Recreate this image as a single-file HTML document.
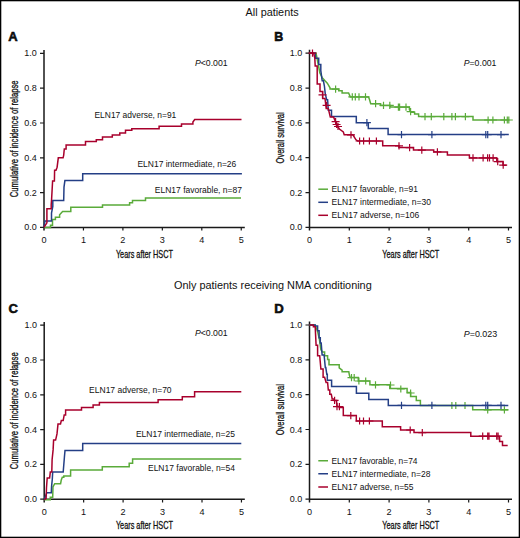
<!DOCTYPE html><html><head><meta charset="utf-8"><style>html,body{margin:0;padding:0;background:#fff}svg{display:block;font-family:"Liberation Sans",sans-serif}</style></head><body>
<svg width="520" height="538" viewBox="0 0 520 538" fill="#111">
<rect x="0.65" y="0.65" width="518.7" height="536.7" fill="#fff" stroke="#000" stroke-width="1.3"/>
<path d="M44.0 50.0 V230.6 M44.0 227.4 H244.8" stroke="#1a1a1a" stroke-width="1.5" fill="none"/>
<path d="M40.0 227.40H44.0M40.0 192.60H44.0M40.0 157.80H44.0M40.0 123.00H44.0M40.0 88.20H44.0M40.0 53.40H44.0M83.45 227.4V230.6M122.90 227.4V230.6M162.35 227.4V230.6M201.80 227.4V230.6M241.25 227.4V230.6" stroke="#1a1a1a" stroke-width="1.2" fill="none"/>
<text x="36.7" y="230.4" font-size="9.0" text-anchor="end">0.0</text>
<text x="36.7" y="195.6" font-size="9.0" text-anchor="end">0.2</text>
<text x="36.7" y="160.8" font-size="9.0" text-anchor="end">0.4</text>
<text x="36.7" y="126.0" font-size="9.0" text-anchor="end">0.6</text>
<text x="36.7" y="91.2" font-size="9.0" text-anchor="end">0.8</text>
<text x="36.7" y="56.4" font-size="9.0" text-anchor="end">1.0</text>
<text x="44.0" y="243.0" font-size="9.1" text-anchor="middle">0</text>
<text x="83.45" y="243.0" font-size="9.1" text-anchor="middle">1</text>
<text x="122.9" y="243.0" font-size="9.1" text-anchor="middle">2</text>
<text x="162.35" y="243.0" font-size="9.1" text-anchor="middle">3</text>
<text x="201.8" y="243.0" font-size="9.1" text-anchor="middle">4</text>
<text x="241.25" y="243.0" font-size="9.1" text-anchor="middle">5</text>
<text x="115.9" y="258.1" font-size="10.2" text-anchor="start" textLength="57.0" lengthAdjust="spacingAndGlyphs" stroke="#111" stroke-width="0.3">Years after HSCT</text>
<text transform="translate(17.6 197.2) rotate(-90)" x="0" y="0" font-size="10.2" stroke="#111" stroke-width="0.3" textLength="116.8" lengthAdjust="spacingAndGlyphs">Cumulative of incidence of relapse</text>
<g transform="translate(0 0)">
<path d="M44,227.4 H50.5 V225.2 H52.5 V219.6 H55.4 V217.3 H59.6 V214.7 L62.6,211.4 H70.8 V207.3 H102.5 V205.1 H129.6 V202.8 H132.5 V200.5 H145.5 V198.1 H241" stroke="#5aab3a" stroke-width="1.5" fill="none" stroke-linejoin="miter"/>
<path d="M44,227.4 L44.9,220.9 H51.5 V213.1 L52.8,206.5 V200.4 H63.7 L64,187.1 L64.9,180.6 H82.7 V173.7 H241.9" stroke="#243f86" stroke-width="1.5" fill="none" stroke-linejoin="miter"/>
<path d="M44,227.4 L46.9,222.9 V208.8 H51.2 V204.6 L51.6,199.2 L52.6,181 H54.4 L54.6,170.2 H56 L57.1,167.2 L58.3,157.8 H63.1 L63.7,155.1 L64.3,149 H66.1 V144.9 H85.5 V141.4 H96.3 V139.7 H102.5 V137 H112.3 V135 H119.8 V133 H125.5 V130.3 H131.8 V128.7 H159.1 V126.3 H181.5 V124.1 H192.9 V122 L194.7,119.6 H241.5" stroke="#a8002c" stroke-width="1.5" fill="none" stroke-linejoin="miter"/>
</g>
<path d="M309.5 49.7 V230.6 M309.5 227.4 H512.0" stroke="#1a1a1a" stroke-width="1.5" fill="none"/>
<path d="M305.5 227.40H309.5M305.5 192.56H309.5M305.5 157.72H309.5M305.5 122.88H309.5M305.5 88.04H309.5M305.5 53.20H309.5M349.30 227.4V230.6M389.10 227.4V230.6M428.90 227.4V230.6M468.70 227.4V230.6M508.50 227.4V230.6" stroke="#1a1a1a" stroke-width="1.2" fill="none"/>
<text x="302.2" y="230.4" font-size="9.0" text-anchor="end">0.0</text>
<text x="302.2" y="195.56" font-size="9.0" text-anchor="end">0.2</text>
<text x="302.2" y="160.72" font-size="9.0" text-anchor="end">0.4</text>
<text x="302.2" y="125.88" font-size="9.0" text-anchor="end">0.6</text>
<text x="302.2" y="91.04" font-size="9.0" text-anchor="end">0.8</text>
<text x="302.2" y="56.2" font-size="9.0" text-anchor="end">1.0</text>
<text x="309.5" y="243.0" font-size="9.1" text-anchor="middle">0</text>
<text x="349.3" y="243.0" font-size="9.1" text-anchor="middle">1</text>
<text x="389.1" y="243.0" font-size="9.1" text-anchor="middle">2</text>
<text x="428.9" y="243.0" font-size="9.1" text-anchor="middle">3</text>
<text x="468.7" y="243.0" font-size="9.1" text-anchor="middle">4</text>
<text x="508.5" y="243.0" font-size="9.1" text-anchor="middle">5</text>
<text x="382.3" y="257.9" font-size="10.2" text-anchor="start" textLength="57.0" lengthAdjust="spacingAndGlyphs" stroke="#111" stroke-width="0.3">Years after HSCT</text>
<text transform="translate(283.6 163.4) rotate(-90)" x="0" y="0" font-size="10.2" stroke="#111" stroke-width="0.3" textLength="51.1" lengthAdjust="spacingAndGlyphs">Overall survival</text>
<g transform="translate(0 0)">
<path d="M309.5,53.1 H316 L318.7,66.75 L319.9,73 L322.2,77.7 L325,80.8 L327.3,83.2 L330,87.8 V89.1 H338.7 V90.8 H342.1 V93 H348.6 L350.3,96.9 H368.5 L369.5,99.5 L370.7,103.7 H380.6 V105.4 H390.4 V107.1 H409.4 V109.6 L411,112.3 H414.6 V114 H418.6 V116.6 H473 V120 H509.4" stroke="#5aab3a" stroke-width="1.5" fill="none" stroke-linejoin="miter"/>
<path d="M335.6 85.50V92.70M331.6 89.10H339.6M352.3 93.30V100.50M348.3 96.90H356.3M355.3 93.30V100.50M351.3 96.90H359.3M359 93.30V100.50M355 96.90H363M365.5 93.30V100.50M361.5 96.90H369.5M375.6 100.10V107.30M371.6 103.70H379.6M383.5 101.80V109.00M379.5 105.40H387.5M389.8 101.80V109.00M385.8 105.40H393.8M398.4 103.50V110.70M394.4 107.10H402.4M399.6 103.50V110.70M395.6 107.10H403.6M406 103.50V110.70M402 107.10H410M410.6 108.03V115.23M406.6 111.63H414.6M425 113.00V120.20M421 116.60H429M431.3 113.00V120.20M427.3 116.60H435.3M443.8 113.00V120.20M439.8 116.60H447.8M451.9 113.00V120.20M447.9 116.60H455.9M455.4 113.00V120.20M451.4 116.60H459.4M465.4 113.00V120.20M461.4 116.60H469.4M488.1 116.40V123.60M484.1 120.00H492.1M492.9 116.40V123.60M488.9 120.00H496.9M504.4 116.40V123.60M500.4 120.00H508.4M507.3 116.40V123.60M503.3 120.00H511.3M508.8 116.40V123.60M504.8 120.00H512.8" stroke="#5aab3a" stroke-width="1.2" fill="none"/>
<path d="M309.5,53.1 H315.2 L315.6,58.2 H318.7 V64.4 H320.8 V70.7 L322.2,80.8 H323.4 L324.4,86 L325.2,93.3 L326.7,99.8 H327.6 L328.3,110.2 H331.5 V116.6 H356.3 V122.7 H368.3 V128.5 H388.1 V134.6 H508.8" stroke="#243f86" stroke-width="1.5" fill="none" stroke-linejoin="miter"/>
<path d="M366.9 119.10V126.30M362.9 122.70H370.9M401.5 131.00V138.20M397.5 134.60H405.5M431.9 131.00V138.20M427.9 134.60H435.9M485.8 131.00V138.20M481.8 134.60H489.8M487.7 131.00V138.20M483.7 134.60H491.7M501 131.00V138.20M497 134.60H505" stroke="#243f86" stroke-width="1.2" fill="none"/>
<path d="M309.5,53.1 H313.6 L314.8,58.2 L315.2,66 H317.2 V83.9 H320 V91.4 H322.7 V98.5 H325 L326.2,108.5 H328.3 L330.3,117.1 H333.6 L335.6,122 L337.5,126.2 L339.4,129 L343.3,131.9 L344.2,134.8 H352.9 L355.8,139.6 L357.7,141 H382.7 V145.8 H399 V147.6 H413.5 V150.1 H433.7 V151.9 H447.4 V155 H469.4 V157.9 H496.8 V161.6 H503 V165.2 H506.5" stroke="#a8002c" stroke-width="1.5" fill="none" stroke-linejoin="miter"/>
<path d="M312.5 49.50V56.70M308.5 53.10H316.5M322.5 91.20V98.40M318.5 94.80H326.5M326.6 101.70V108.90M322.6 105.30H330.6M335.6 118.00V125.20M331.6 121.60H339.6M336.6 120.90V128.10M332.6 124.50H340.6M338 122.90V130.10M334 126.50H342M351 131.20V138.40M347 134.80H355M359.6 137.40V144.60M355.6 141.00H363.6M363.6 137.40V144.60M359.6 141.00H367.6M369.4 137.40V144.60M365.4 141.00H373.4M376.4 137.40V144.60M372.4 141.00H380.4M399 142.20V149.40M395 145.80H403M409.6 144.00V151.20M405.6 147.60H413.6M421.8 146.50V153.70M417.8 150.10H425.8M437.4 148.30V155.50M433.4 151.90H441.4M473 154.30V161.50M469 157.90H477M483.1 154.30V161.50M479.1 157.90H487.1M487.6 154.30V161.50M483.6 157.90H491.6M489.5 154.30V161.50M485.5 157.90H493.5M493.1 154.30V161.50M489.1 157.90H497.1M497.7 158.00V165.20M493.7 161.60H501.7M503.2 161.60V168.80M499.2 165.20H507.2" stroke="#a8002c" stroke-width="1.2" fill="none"/>
</g>
<path d="M44.2 321.9 V502.4 M44.2 499.2 H244.8" stroke="#1a1a1a" stroke-width="1.5" fill="none"/>
<path d="M40.2 499.20H44.2M40.2 464.40H44.2M40.2 429.60H44.2M40.2 394.80H44.2M40.2 360.00H44.2M40.2 325.20H44.2M83.65 499.2V502.4M123.10 499.2V502.4M162.55 499.2V502.4M202.00 499.2V502.4M241.45 499.2V502.4" stroke="#1a1a1a" stroke-width="1.2" fill="none"/>
<text x="36.900000000000006" y="502.2" font-size="9.0" text-anchor="end">0.0</text>
<text x="36.900000000000006" y="467.4" font-size="9.0" text-anchor="end">0.2</text>
<text x="36.900000000000006" y="432.6" font-size="9.0" text-anchor="end">0.4</text>
<text x="36.900000000000006" y="397.8" font-size="9.0" text-anchor="end">0.6</text>
<text x="36.900000000000006" y="363.0" font-size="9.0" text-anchor="end">0.8</text>
<text x="36.900000000000006" y="328.2" font-size="9.0" text-anchor="end">1.0</text>
<text x="44.2" y="514.8" font-size="9.1" text-anchor="middle">0</text>
<text x="83.65" y="514.8" font-size="9.1" text-anchor="middle">1</text>
<text x="123.1" y="514.8" font-size="9.1" text-anchor="middle">2</text>
<text x="162.55" y="514.8" font-size="9.1" text-anchor="middle">3</text>
<text x="202.0" y="514.8" font-size="9.1" text-anchor="middle">4</text>
<text x="241.45" y="514.8" font-size="9.1" text-anchor="middle">5</text>
<text x="115.9" y="529.2" font-size="10.2" text-anchor="start" textLength="57.0" lengthAdjust="spacingAndGlyphs" stroke="#111" stroke-width="0.3">Years after HSCT</text>
<text transform="translate(17.6 469.2) rotate(-90)" x="0" y="0" font-size="10.2" stroke="#111" stroke-width="0.3" textLength="116.9" lengthAdjust="spacingAndGlyphs">Cumulative of incidence of relapse</text>
<g transform="translate(0 0.5)">
<path d="M44.2,499.2 H50.3 V496.7 H52.7 L53,486.3 L54.7,483.2 H60.6 L61.2,479.8 L62.3,476.8 H63.8 V475.6 H70.6 V469.6 H102.3 V466.2 H129.2 V462.7 H132.6 V458.5 H241.3" stroke="#5aab3a" stroke-width="1.5" fill="none" stroke-linejoin="miter"/>
<path d="M44.2,499.2 L46.8,492.2 H51.3 L51.6,485.6 L52.3,478.8 L52.7,471.5 H63.2 L64.4,456.8 L65,450 H82.7 V443.1 H241.3" stroke="#243f86" stroke-width="1.5" fill="none" stroke-linejoin="miter"/>
<path d="M44.2,499.2 L46.1,498 L46.5,487 L47.2,477.4 H49.6 L49.9,475.3 L50.3,471.5 H51.8 L52.1,459.2 L53.1,449.4 L53.6,439.6 H55.6 L57,433.4 L58,423.6 H60.5 L61.3,420 H63.2 L64.2,414.4 H65.6 V409.6 H81.5 V406.9 H93.1 V404.4 H99.4 V402.1 H158.1 V399.2 H182.3 V396.3 H194.6 V391.2 H241.3" stroke="#a8002c" stroke-width="1.5" fill="none" stroke-linejoin="miter"/>
</g>
<path d="M309.5 321.6 V502.4 M309.5 499.2 H512.0" stroke="#1a1a1a" stroke-width="1.5" fill="none"/>
<path d="M305.5 499.20H309.5M305.5 464.36H309.5M305.5 429.52H309.5M305.5 394.68H309.5M305.5 359.84H309.5M305.5 325.00H309.5M349.30 499.2V502.4M389.10 499.2V502.4M428.90 499.2V502.4M468.70 499.2V502.4M508.50 499.2V502.4" stroke="#1a1a1a" stroke-width="1.2" fill="none"/>
<text x="302.2" y="502.2" font-size="9.0" text-anchor="end">0.0</text>
<text x="302.2" y="467.36" font-size="9.0" text-anchor="end">0.2</text>
<text x="302.2" y="432.52" font-size="9.0" text-anchor="end">0.4</text>
<text x="302.2" y="397.68" font-size="9.0" text-anchor="end">0.6</text>
<text x="302.2" y="362.84" font-size="9.0" text-anchor="end">0.8</text>
<text x="302.2" y="328.0" font-size="9.0" text-anchor="end">1.0</text>
<text x="309.5" y="514.8" font-size="9.1" text-anchor="middle">0</text>
<text x="349.3" y="514.8" font-size="9.1" text-anchor="middle">1</text>
<text x="389.1" y="514.8" font-size="9.1" text-anchor="middle">2</text>
<text x="428.9" y="514.8" font-size="9.1" text-anchor="middle">3</text>
<text x="468.7" y="514.8" font-size="9.1" text-anchor="middle">4</text>
<text x="508.5" y="514.8" font-size="9.1" text-anchor="middle">5</text>
<text x="382.3" y="529.2" font-size="10.2" text-anchor="start" textLength="57.0" lengthAdjust="spacingAndGlyphs" stroke="#111" stroke-width="0.3">Years after HSCT</text>
<text transform="translate(283.6 435.2) rotate(-90)" x="0" y="0" font-size="10.2" stroke="#111" stroke-width="0.3" textLength="51.1" lengthAdjust="spacingAndGlyphs">Overall survival</text>
<g transform="translate(0 0)">
<path d="M309.5,324.9 H315 L317.5,331 L319.4,339.3 L320.9,349.7 L322.4,352 H324.6 V355.7 H327.6 V359.4 H329 V364.7 H339.2 V367.8 L342.1,370.2 V371.8 H348.8 L349.5,375.6 L350.2,377.6 H358.3 V381 H369.9 V384.8 H389.8 V388.5 H407.1 V392.5 H410.6 V396.5 H416.3 V400.6 H420.4 V405.5 H472.7 V409.8 H508.3" stroke="#5aab3a" stroke-width="1.5" fill="none" stroke-linejoin="miter"/>
<path d="M351.5 374.00V381.20M347.5 377.60H355.5M354.2 374.00V381.20M350.2 377.60H358.2M358.9 377.40V384.60M354.9 381.00H362.9M365.7 377.40V384.60M361.7 381.00H369.7M375.5 381.20V388.40M371.5 384.80H379.5M390.5 381.40V388.60M386.5 385.00H394.5M400.8 385.40V392.60M396.8 389.00H404.8M410.6 389.40V396.60M406.6 393.00H414.6M451.9 401.90V409.10M447.9 405.50H455.9M455.8 401.90V409.10M451.8 405.50H459.8M465 401.90V409.10M461 405.50H469M487.7 406.20V413.40M483.7 409.80H491.7M504.4 406.20V413.40M500.4 409.80H508.4" stroke="#5aab3a" stroke-width="1.2" fill="none"/>
<path d="M309.5,324.9 H315.2 V326 H317.6 V330.7 H319.1 V337.8 H320.3 V343 H321.2 L322.1,354.9 H324.1 L325.3,367.6 H325.8 L326.8,374.3 H327.3 V380.2 H331.6 V386.6 H356.4 V393.2 H368.8 V399.5 H388.3 V405.4 H508.3" stroke="#243f86" stroke-width="1.5" fill="none" stroke-linejoin="miter"/>
<path d="M401.5 401.80V409.00M397.5 405.40H405.5M431.9 401.80V409.00M427.9 405.40H435.9M485.8 401.80V409.00M481.8 405.40H489.8M487.7 401.80V409.00M483.7 405.40H491.7M501 401.80V409.00M497 405.40H505" stroke="#243f86" stroke-width="1.2" fill="none"/>
<path d="M309.5,324.9 H313.4 V326.7 H315.2 L316.1,345.3 H317.6 V355.7 H319.7 L320.9,369.1 H323.1 V377.2 H324.6 L326.1,382.5 H327.6 L328.3,389.9 H329.8 V394.3 H331.3 L332.2,398.9 H334.2 V400.4 H336.5 L337,406.6 H339.4 V407.6 H343.3 V415.6 H356.3 V421 H382.3 V426.7 H400.6 V430 H414 V432.6 H470.8 V436.2 H499.6 V441.5 H502.5 V445.4 H507.7" stroke="#a8002c" stroke-width="1.5" fill="none" stroke-linejoin="miter"/>
<path d="M334.6 396.80V404.00M330.6 400.40H338.6M337 403.00V410.20M333 406.60H341M339.4 403.00V410.20M335.4 406.60H343.4M350.8 412.00V419.20M346.8 415.60H354.8M359.6 417.40V424.60M355.6 421.00H363.6M363.5 417.40V424.60M359.5 421.00H367.5M369.4 417.40V424.60M365.4 421.00H373.4M410.2 426.40V433.60M406.2 430.00H414.2M422.3 429.00V436.20M418.3 432.60H426.3M482.7 432.60V439.80M478.7 436.20H486.7M487.7 432.60V439.80M483.7 436.20H491.7M489 432.60V439.80M485 436.20H493M496.7 432.60V439.80M492.7 436.20H500.7M498.1 432.60V439.80M494.1 436.20H502.1" stroke="#a8002c" stroke-width="1.2" fill="none"/>
</g>
<text x="94.5" y="117.6" font-size="8.6" text-anchor="start" textLength="81.8" lengthAdjust="spacingAndGlyphs">ELN17 adverse, n=91</text>
<text x="137.4" y="167.1" font-size="8.6" text-anchor="start" textLength="98.9" lengthAdjust="spacingAndGlyphs">ELN17 intermediate, n=26</text>
<text x="154.8" y="192.9" font-size="8.6" text-anchor="start" textLength="87.2" lengthAdjust="spacingAndGlyphs">ELN17 favorable, n=87</text>
<text x="89.1" y="392.8" font-size="8.6" text-anchor="start" textLength="82.5" lengthAdjust="spacingAndGlyphs">ELN17 adverse, n=70</text>
<text x="135.9" y="436.6" font-size="8.6" text-anchor="start" textLength="99.1" lengthAdjust="spacingAndGlyphs">ELN17 intermediate, n=25</text>
<text x="148.0" y="471" font-size="8.6" text-anchor="start" textLength="87.0" lengthAdjust="spacingAndGlyphs">ELN17 favorable, n=54</text>
<path d="M318.3 189.2H328" stroke="#5aab3a" stroke-width="1.5"/>
<text x="331.5" y="191.75" font-size="8.6" text-anchor="start" textLength="86.5" lengthAdjust="spacingAndGlyphs">ELN17 favorable, n=91</text>
<path d="M318.3 202.3H328" stroke="#243f86" stroke-width="1.5"/>
<text x="331.5" y="204.5" font-size="8.6" text-anchor="start" textLength="99.5" lengthAdjust="spacingAndGlyphs">ELN17 intermediate, n=30</text>
<path d="M318.3 215.3H328" stroke="#a8002c" stroke-width="1.5"/>
<text x="331.5" y="217.5" font-size="8.6" text-anchor="start" textLength="87.75" lengthAdjust="spacingAndGlyphs">ELN17 adverse, n=106</text>
<path d="M318.3 460.75H328" stroke="#5aab3a" stroke-width="1.5"/>
<text x="331.5" y="463.75" font-size="8.6" text-anchor="start" textLength="86" lengthAdjust="spacingAndGlyphs">ELN17 favorable, n=74</text>
<path d="M318.3 473.75H328" stroke="#243f86" stroke-width="1.5"/>
<text x="331.5" y="476.75" font-size="8.6" text-anchor="start" textLength="99" lengthAdjust="spacingAndGlyphs">ELN17 intermediate, n=28</text>
<path d="M318.3 487H328" stroke="#a8002c" stroke-width="1.5"/>
<text x="331.5" y="490" font-size="8.6" text-anchor="start" textLength="82" lengthAdjust="spacingAndGlyphs">ELN17 adverse, n=55</text>
<text x="194.89999999999998" y="66.1" font-size="8.6" textLength="32.7" lengthAdjust="spacingAndGlyphs"><tspan font-style="italic">P</tspan>&lt;0.001</text>
<text x="463.7" y="66.1" font-size="8.6" textLength="32.8" lengthAdjust="spacingAndGlyphs"><tspan font-style="italic">P</tspan>=0.001</text>
<text x="194.89999999999998" y="336.1" font-size="8.6" textLength="32.7" lengthAdjust="spacingAndGlyphs"><tspan font-style="italic">P</tspan>&lt;0.001</text>
<text x="463.7" y="336.8" font-size="8.6" textLength="33.6" lengthAdjust="spacingAndGlyphs"><tspan font-style="italic">P</tspan>=0.023</text>
<text x="8.3" y="41" font-size="13.2" text-anchor="start" textLength="9.4" lengthAdjust="spacingAndGlyphs" font-weight="bold" stroke="#000" stroke-width="0.55">A</text>
<text x="274.2" y="41.2" font-size="13.2" text-anchor="start" textLength="9.0" lengthAdjust="spacingAndGlyphs" font-weight="bold" stroke="#000" stroke-width="0.55">B</text>
<text x="8.5" y="313.3" font-size="13.2" text-anchor="start" textLength="9.4" lengthAdjust="spacingAndGlyphs" font-weight="bold" stroke="#000" stroke-width="0.55">C</text>
<text x="274.2" y="313.3" font-size="13.2" text-anchor="start" textLength="9.5" lengthAdjust="spacingAndGlyphs" font-weight="bold" stroke="#000" stroke-width="0.55">D</text>
<text x="245.6" y="16.4" font-size="11" text-anchor="start" textLength="53.0" lengthAdjust="spacingAndGlyphs">All patients</text>
<text x="174.1" y="288.8" font-size="11" text-anchor="start" textLength="197.6" lengthAdjust="spacingAndGlyphs">Only patients receiving NMA conditioning</text>
</svg></body></html>
